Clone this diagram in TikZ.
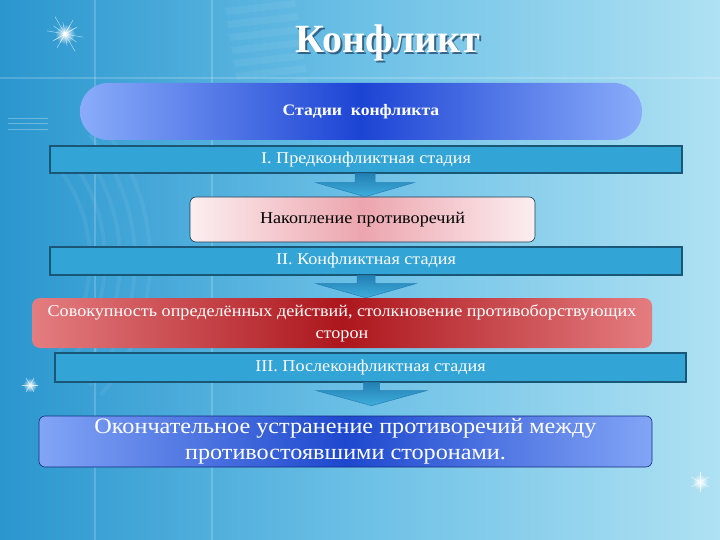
\documentclass[tikz,border=0pt]{standalone}
\usepackage{fontspec}
\setmainfont{Liberation Serif}[FakeStretch=1.1]
\newfontfamily\titlefont{Liberation Serif}
\usetikzlibrary{calc,fadings}
\tikzfading[name=glowfade, inner color=transparent!0, outer color=transparent!100]
\definecolor{bgL}{RGB}{42,150,206}
\definecolor{bgM}{RGB}{108,192,230}
\definecolor{bgR}{RGB}{175,225,243}
\definecolor{barC}{RGB}{50,164,214}
\definecolor{barD}{RGB}{26,86,118}
\definecolor{arrC}{RGB}{62,174,220}
\definecolor{arrD}{RGB}{36,128,180}
\definecolor{pillE}{RGB}{138,172,250}
\definecolor{pillM}{RGB}{28,68,212}
\definecolor{redE}{RGB}{228,125,128}
\definecolor{redM}{RGB}{172,22,28}
\definecolor{pinkE}{RGB}{252,238,240}
\definecolor{pinkM}{RGB}{236,165,174}
\definecolor{finE}{RGB}{130,165,246}
\definecolor{finM}{RGB}{30,72,206}
\definecolor{shadowC}{RGB}{30,60,95}
\tikzset{
  barbox/.style={draw=barD, line width=1.3pt, fill=barC, text=white,
    font=\fontsize{16.5}{18}\selectfont, inner sep=0pt, minimum width=632pt, minimum height=27pt},
  blockarrow/.style={top color=arrD, bottom color=arrC, draw=arrD, line width=0.5pt},
  starray/.style={white, line width=0.5pt, line cap=round},
  bgline/.style={white, opacity=0.18, line width=1.2pt}
}
\begin{document}
\begin{tikzpicture}[x=1pt,y=-1pt]
\useasboundingbox (0,0) rectangle (720,540);
% background
\shade[left color=bgL, right color=bgR, middle color=bgM] (0,0) rectangle (720,540);
% faint background structure
\draw[bgline] (95,0) -- (95,540);
\draw[bgline] (212,0) -- (212,540);
\draw[bgline] (0,78) -- (720,78);
\foreach \i in {0,...,6}{
  \fill[white, opacity=0.06] ($(225,8)+(\i*2,\i*13)$) -- ++(70,-8) -- ++(2,7) -- ++(-70,8) -- cycle;
}
\foreach \r in {150,165,180,195,210}{
  \draw[white, opacity=0.06, line width=4pt] (-60,260) ++(-40:\r) arc[start angle=-40, end angle=40, radius=\r];
}
\foreach \yy in {118,123,129}{\draw[white, opacity=0.3, line width=0.7pt] (8,\yy) -- (48,\yy);}
% stars
\fill[white, path fading=glowfade] (65,34) circle (10);
\fill[white] (65,34) circle (2.2);
\foreach \a/\l in {10/18,35/14,60/20,80/12,120/16,150/12,-30/14,-60/10}{
  \draw[starray, opacity=0.6] ($(65,34)+(\a:\l)$) -- ($(65,34)+(\a+180:\l)$);
}
\fill[white, path fading=glowfade] (30,385) circle (7);
\foreach \a in {0,60,120}{\draw[starray, opacity=0.7] ($(30,385)+(\a:8)$) -- ($(30,385)+(\a+180:8)$);}
\fill[white, path fading=glowfade] (700,482) circle (8);
\foreach \a in {30,90,150}{\draw[starray, opacity=0.7] ($(700,482)+(\a:10)$) -- ($(700,482)+(\a+180:10)$);}
% title
\node[anchor=base, text=shadowC, opacity=0.7, font=\titlefont\bfseries\fontsize{40}{42}\selectfont] (titlesh) at (389.5,54.5) {Конфликт};
\node[anchor=base, text=white, font=\titlefont\bfseries\fontsize{40}{42}\selectfont] (title) at (388,53) {Конфликт};
% pill
\node[rounded corners=28pt, left color=pillE, right color=pillE, middle color=pillM,
  minimum width=562pt, minimum height=57pt, inner sep=0pt, text=white,
  font=\bfseries\fontsize{16}{18}\selectfont] (pill) at (361,111.5) {Стадии \ конфликта};
% stage bars and boxes
\node[barbox] (b1) at (366,159.5) {I. Предконфликтная стадия};
\node[draw=barD!70!black, line width=0.6pt, rounded corners=6pt, left color=pinkE, right color=pinkE, middle color=pinkM,
  minimum width=345pt, minimum height=45pt, inner sep=0pt, font=\fontsize{16.5}{18}\selectfont] (acc) at (362.5,219.5) {Накопление противоречий};
\node[barbox, minimum height=28pt] (b2) at (366,261) {II. Конфликтная стадия};
\node[rounded corners=8pt, left color=redE, right color=redE, middle color=redM,
  minimum width=620pt, minimum height=50pt, inner sep=0pt, text=white, align=center,
  font=\fontsize{16.5}{22}\selectfont] (red) at (342,323) {Совокупность определённых действий, столкновение противоборствующих\\сторон};
\node[barbox, minimum width=631pt, minimum height=29pt] (b3) at (370.5,367.5) {III. Послеконфликтная стадия};
\node[draw=finM!60!black, line width=0.6pt, rounded corners=6pt, left color=finE, right color=finE, middle color=finM,
  minimum width=613pt, minimum height=51pt, inner sep=0pt, text=white, align=center,
  font=\fontsize{22}{26}\selectfont] (fin) at (345.5,441.5) {Окончательное устранение противоречий между\\противостоявшими сторонами.};
% block arrows
\coordinate (s1) at ($(b1.south)+(-1,0)$);
\coordinate (t1) at (s1 |- acc.north);
\draw[blockarrow] ($(s1)+(-10,0)$) -- ($(s1)+(10,0)$) -- ($(s1)+(10,9)$) -- ($(s1)+(49,9)$)
  -- (t1) -- ($(s1)+(-49,9)$) -- ($(s1)+(-10,9)$) -- cycle;
\coordinate (s2) at ($(b2.south)+(0,0)$);
\coordinate (t2) at (s2 |- red.north);
\draw[blockarrow] ($(s2)+(-9,0)$) -- ($(s2)+(9,0)$) -- ($(s2)+(9,8)$) -- ($(s2)+(50,8)$)
  -- (t2) -- ($(s2)+(-50,8)$) -- ($(s2)+(-9,8)$) -- cycle;
\coordinate (s3) at ($(b3.south)+(1,0)$);
\coordinate (t3) at ($(s3)+(0,23)$);
\draw[blockarrow] ($(s3)+(-8,0)$) -- ($(s3)+(8,0)$) -- ($(s3)+(8,8)$) -- ($(s3)+(55,8)$)
  -- (t3) -- ($(s3)+(-55,8)$) -- ($(s3)+(-8,8)$) -- cycle;
\end{tikzpicture}
\end{document}
